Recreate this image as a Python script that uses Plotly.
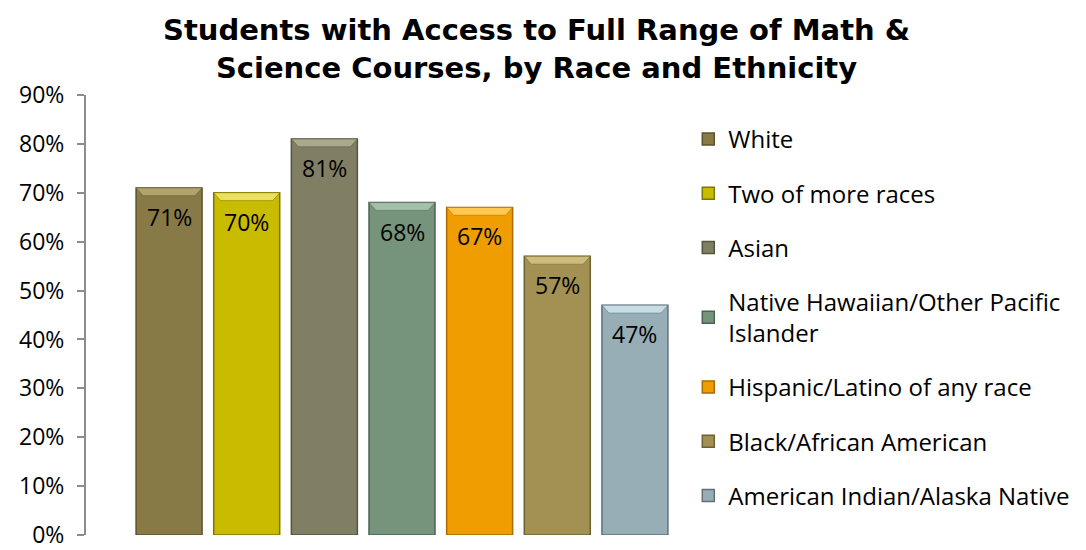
import plotly.graph_objects as go

# Share of students with access to the full range of math & science courses
groups = [
    "White",
    "Two of more races",
    "Asian",
    "Native Hawaiian/Other Pacific<br>Islander",
    "Hispanic/Latino of any race",
    "Black/African American",
    "American Indian/Alaska Native",
]
values = [71, 70, 81, 68, 67, 57, 47]
fill_colors = ["#877a46", "#c8bb00", "#807f64", "#76937c", "#ef9d00", "#a29152", "#97aeb7"]
edge_colors = ["#5c522c", "#7f7600", "#55543f", "#4c6352", "#a86c00", "#6d6133", "#5f7178"]
top_colors = ["#b0a36c", "#ece060", "#aaa98c", "#a3c0a8", "#ffc850", "#cdbd7c", "#c8dde5"]
y_ticks = [0, 10, 20, 30, 40, 50, 60, 70, 80, 90]
y_tick_labels = [f"{t}%" for t in y_ticks]

FONT = "Open Sans, Noto Sans, sans-serif"
BAR_W = 0.85
BEVEL = 1.6  # height of the lighter top facet, in axis units

fig = go.Figure()
for i, (name, v) in enumerate(zip(groups, values)):
    fig.add_trace(go.Bar(
        x=[i], y=[v], name=name, width=BAR_W,
        marker=dict(color=fill_colors[i], line=dict(color=edge_colors[i], width=1.5)),
        legendgroup=f"g{i}",
        hoverinfo="name+y",
    ))
    # bevelled top facet
    x0, x1 = i - BAR_W / 2, i + BAR_W / 2
    inset = 0.09
    fig.add_shape(
        type="path",
        path=f"M {x0},{v} L {x1},{v} L {x1 - inset},{v - BEVEL} L {x0 + inset},{v - BEVEL} Z",
        xref="x", yref="y", fillcolor=top_colors[i],
        line=dict(color=edge_colors[i], width=0.5), layer="above",
    )
    fig.add_annotation(
        x=i, y=v, text=f"{v}%", showarrow=False, yanchor="top", yshift=-11,
        font=dict(family=FONT, size=23, color="#000000"),
    )

# Chart heading, centred over the whole figure
fig.add_annotation(
    text="Students with Access to Full Range of Math &amp;<br>Science Courses, by Race and Ethnicity",
    xref="paper", yref="paper", x=0.7136, y=1.105, xanchor="center", yanchor="middle",
    showarrow=False, align="center",
    font=dict(family="DejaVu Sans, sans-serif", size=29, color="#000000", weight="bold"),
)

fig.update_layout(
    width=1086, height=550,
    paper_bgcolor="white", plot_bgcolor="white",
    margin=dict(l=86, r=368, t=95, b=15, autoexpand=False),
    barmode="overlay",
    showlegend=True,
    legend=dict(
        x=0.953, xanchor="left", y=0.95, yanchor="top",
        font=dict(family=FONT, size=24, color="#000000"),
        traceorder="grouped", tracegroupgap=20,
        itemwidth=30, bgcolor="rgba(0,0,0,0)", maxheight=540,
    ),
    xaxis=dict(
        range=[-1.07, 7.07], showticklabels=False, showgrid=False,
        zeroline=False, showline=False, ticks="",
    ),
    yaxis=dict(
        range=[0, 90], tickmode="array", tickvals=y_ticks, ticktext=y_tick_labels,
        showgrid=False, zeroline=False, ticklabeloverflow="allow", automargin=False,
        showline=True, linecolor="#8c8c8c", linewidth=2,
        ticks="outside", ticklen=7, tickcolor="#8c8c8c", tickwidth=2,
        ticklabelstandoff=8,
        tickfont=dict(family=FONT, size=23, color="#000000"),
    ),
)

fig.write_html("out.html")
